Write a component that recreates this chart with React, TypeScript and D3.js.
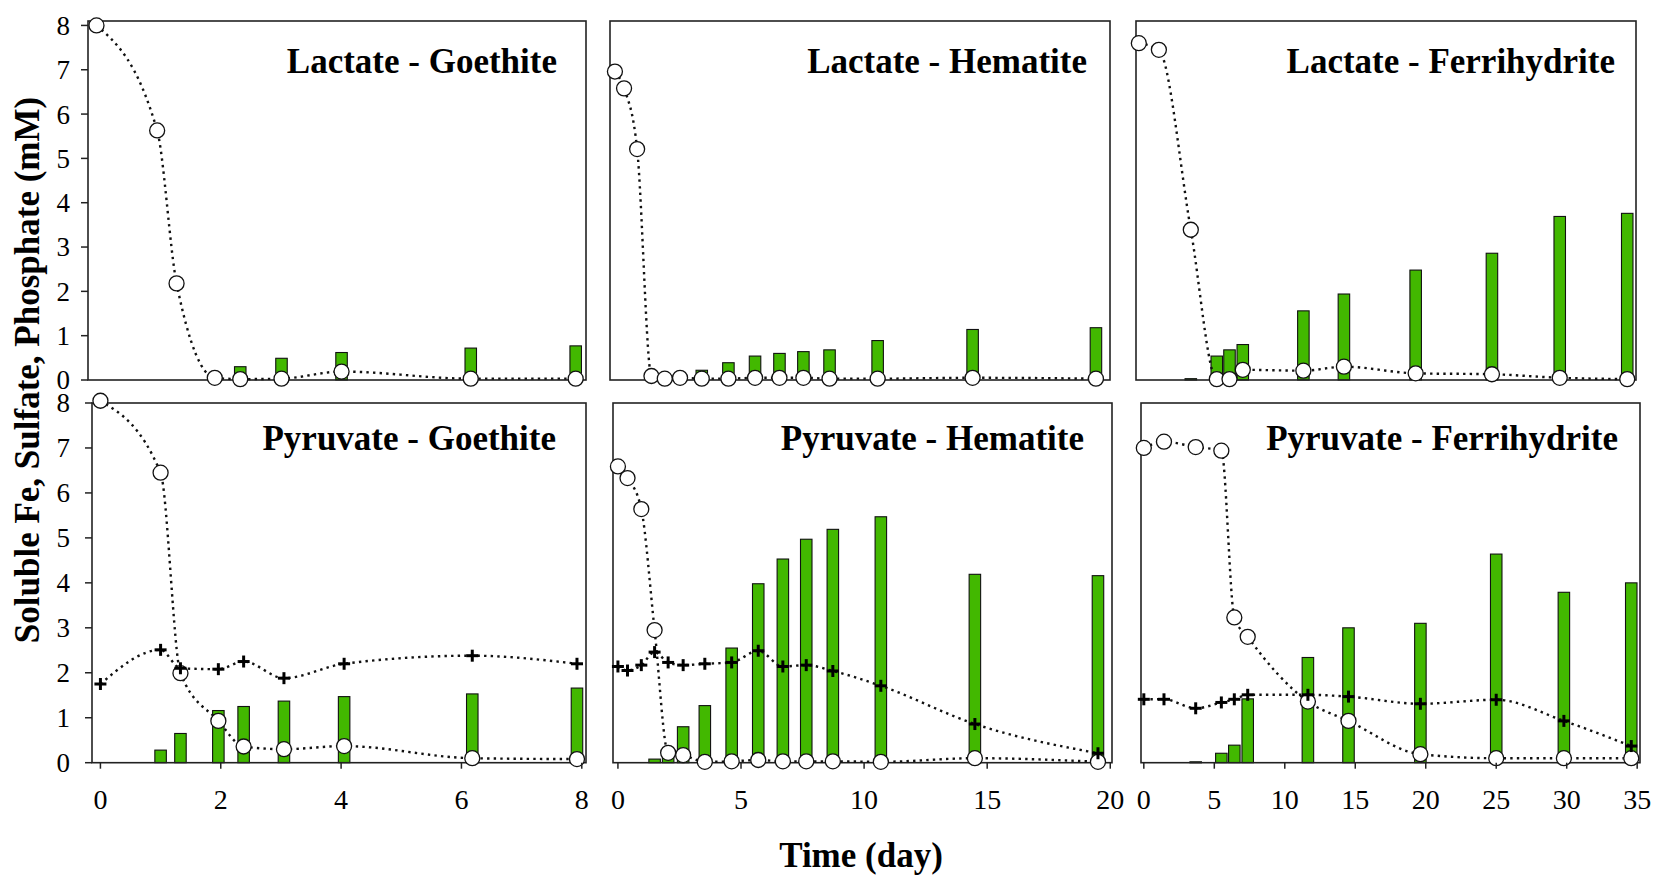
import React, { useEffect } from "react";
import * as d3 from "d3";

// ---------- DATA ----------
// Lactate - Goethite
const lgTime = [0, 1.0, 1.32, 1.95, 2.37, 3.05, 4.04, 6.17, 7.9];
const lgDonor = [8.0, 5.63, 2.18, 0.05, 0.02, 0.03, 0.19, 0.03, 0.03];
const lgFe = [0, 0, 0, 0, 0.3, 0.49, 0.62, 0.72, 0.77];

// Lactate - Hematite
const lhTime = [0, 0.37, 0.9, 1.48, 2.02, 2.64, 3.52, 4.6, 5.68, 6.67, 7.64, 8.7, 10.65, 14.5, 19.5];
const lhDonor = [6.96, 6.58, 5.21, 0.09, 0.03, 0.05, 0.03, 0.03, 0.05, 0.05, 0.05, 0.03, 0.03, 0.05, 0.03];
const lhFe = [0, 0, 0, 0, 0, 0, 0.22, 0.39, 0.54, 0.6, 0.64, 0.68, 0.89, 1.14, 1.18];

// Lactate - Ferrihydrite
const lfTime = [0, 1.42, 3.68, 5.52, 6.42, 7.36, 11.65, 14.52, 19.6, 25.0, 29.8, 34.58];
const lfDonor = [7.6, 7.45, 3.39, 0.02, 0.02, 0.23, 0.21, 0.3, 0.15, 0.13, 0.05, 0.02];
const lfFe = [0, 0, 0.03, 0.54, 0.68, 0.8, 1.56, 1.94, 2.48, 2.86, 3.69, 3.76];

// Pyruvate - Goethite
const pgTime = [0, 1.0, 1.33, 1.96, 2.38, 3.05, 4.05, 6.18, 7.92];
const pgDonor = [8.05, 6.45, 1.99, 0.93, 0.36, 0.3, 0.37, 0.1, 0.08];
const pgSulfate = [1.75, 2.51, 2.1, 2.08, 2.25, 1.88, 2.2, 2.38, 2.2];
const pgFe = [0, 0.28, 0.65, 1.16, 1.25, 1.37, 1.47, 1.53, 1.66];

// Pyruvate - Hematite
const phTime = [0, 0.39, 0.95, 1.49, 2.04, 2.65, 3.53, 4.62, 5.7, 6.7, 7.65, 8.73, 10.68, 14.5, 19.5];
const phDonor = [6.59, 6.33, 5.64, 2.95, 0.22, 0.17, 0.02, 0.03, 0.06, 0.03, 0.03, 0.03, 0.02, 0.1, 0.02];
const phSulfate = [2.14, 2.05, 2.17, 2.46, 2.23, 2.17, 2.2, 2.23, 2.49, 2.14, 2.17, 2.04, 1.71, 0.86, 0.21];
const phFe = [0, 0, 0, 0.08, 0.12, 0.8, 1.27, 2.55, 3.98, 4.53, 4.97, 5.19, 5.47, 4.19, 4.16];

// Pyruvate - Ferrihydrite
const pfTime = [0, 1.43, 3.68, 5.5, 6.42, 7.37, 11.64, 14.52, 19.62, 25.0, 29.8, 34.58];
const pfDonor = [7.0, 7.14, 7.02, 6.94, 3.23, 2.8, 1.36, 0.93, 0.19, 0.1, 0.1, 0.1];
const pfSulfate = [1.41, 1.41, 1.21, 1.34, 1.41, 1.51, 1.51, 1.47, 1.31, 1.4, 0.93, 0.37];
const pfFe = [0, 0, 0.02, 0.21, 0.39, 1.42, 2.34, 3.0, 3.1, 4.64, 3.79, 4.0];

// Ticks
const yTicks = [0, 1, 2, 3, 4, 5, 6, 7, 8];
const goethiteTicks = [0, 2, 4, 6, 8];
const hematiteTicks = [0, 5, 10, 15, 20];
const ferrihydriteTicks = [0, 5, 10, 15, 20, 25, 30, 35];

const titles = [
  "Lactate - Goethite",
  "Lactate - Hematite",
  "Lactate - Ferrihydrite",
  "Pyruvate - Goethite",
  "Pyruvate - Hematite",
  "Pyruvate - Ferrihydrite",
];

// ---------- LAYOUT ----------
const W = 1654;
const H = 876;
const FONT = "'Liberation Serif', 'Times New Roman', Times, serif";
const GREEN = "#42b800";

const rows = [
  { y0: 21, y1: 380, yMax: 8.1, titleY: 73 },
  { y0: 403, y1: 762.7, yMax: 8, titleY: 450 },
];
const colDomains = [
  [-0.14, 8.07],
  [-0.2, 20.07],
  [-0.2, 35.2],
];
const colTicks = [goethiteTicks, hematiteTicks, ferrihydriteTicks];
const frames = [
  [[88, 586], [610, 1110], [1136, 1636]],
  [[92, 586], [613, 1112], [1141, 1640]],
];
const titleRight = [
  [557, 1087, 1615],
  [556, 1084, 1618],
];

const panels = [
  { row: 0, col: 0, t: lgTime, donor: lgDonor, fe: lgFe, sulfate: null },
  { row: 0, col: 1, t: lhTime, donor: lhDonor, fe: lhFe, sulfate: null },
  { row: 0, col: 2, t: lfTime, donor: lfDonor, fe: lfFe, sulfate: null },
  { row: 1, col: 0, t: pgTime, donor: pgDonor, fe: pgFe, sulfate: pgSulfate },
  { row: 1, col: 1, t: phTime, donor: phDonor, fe: phFe, sulfate: phSulfate },
  { row: 1, col: 2, t: pfTime, donor: pfDonor, fe: pfFe, sulfate: pfSulfate },
];

function Panel({ p, i }: { p: any; i: number }) {
  const row = rows[p.row];
  const [fx0, fx1] = frames[p.row][p.col];
  const x = d3.scaleLinear().domain(colDomains[p.col]).range([fx0, fx1]);
  const y = d3.scaleLinear().domain([0, row.yMax]).range([row.y1, row.y0]);
  const pts = p.t.map((t: number, k: number) => [t, p.donor[k]]);
  const line = d3
    .line<number[]>()
    .x((d) => x(d[0]))
    .y((d) => y(d[1]))
    .curve(d3.curveMonotoneX);
  const sulfPts = p.sulfate ? p.t.map((t: number, k: number) => [t, p.sulfate[k]]) : null;
  const barW = 11.5;
  const cs = 6;
  return (
    <g>
      {/* bars */}
      {p.t.map((t: number, k: number) =>
        p.fe[k] > 0 ? (
          <rect
            key={"b" + k}
            x={x(t) - barW / 2}
            y={y(p.fe[k])}
            width={barW}
            height={Math.max(1, y(0) - y(p.fe[k]))}
            fill={GREEN}
            stroke="#111"
            strokeWidth={1.1}
          />
        ) : null
      )}
      {/* frame */}
      <rect
        x={fx0}
        y={row.y0}
        width={fx1 - fx0}
        height={row.y1 - row.y0}
        fill="none"
        stroke="#222"
        strokeWidth={1.6}
      />
      {/* lines */}
      {sulfPts && (
        <path d={line(sulfPts) || ""} fill="none" stroke="#111" strokeWidth={2.4} strokeDasharray="2.4,4.2" />
      )}
      <path d={line(pts) || ""} fill="none" stroke="#111" strokeWidth={2.4} strokeDasharray="2.4,4.2" />
      {/* circles */}
      {pts.map((d: number[], k: number) => (
        <circle key={"c" + k} cx={x(d[0])} cy={y(d[1])} r={7.5} fill="#fff" stroke="#111" strokeWidth={1.3} />
      ))}
      {/* crosses */}
      {sulfPts &&
        sulfPts.map((d: number[], k: number) => (
          <g key={"s" + k} stroke="#000" strokeWidth={3}>
            <line x1={x(d[0]) - cs} x2={x(d[0]) + cs} y1={y(d[1])} y2={y(d[1])} />
            <line x1={x(d[0])} x2={x(d[0])} y1={y(d[1]) - cs} y2={y(d[1]) + cs} />
          </g>
        ))}
      {/* y axis ticks */}
      {p.col === 0 &&
        yTicks.map((v) => (
          <g key={"yt" + v}>
            <line x1={fx0 - 7} x2={fx0} y1={y(v)} y2={y(v)} stroke="#222" strokeWidth={1.5} />
            <text x={70} y={y(v)} dy="0.35em" textAnchor="end" fontFamily={FONT} fontSize={27} fill="#000">
              {v}
            </text>
          </g>
        ))}
      {/* x axis ticks */}
      {p.row === 1 &&
        colTicks[p.col].map((v) => (
          <g key={"xt" + v}>
            <line x1={x(v)} x2={x(v)} y1={row.y1} y2={row.y1 + 6} stroke="#222" strokeWidth={1.5} />
            <text x={x(v)} y={809} textAnchor="middle" fontFamily={FONT} fontSize={28} fill="#000">
              {v}
            </text>
          </g>
        ))}
      {/* title */}
      <text
        x={titleRight[p.row][p.col]}
        y={row.titleY}
        textAnchor="end"
        fontFamily={FONT}
        fontWeight="bold"
        fontSize={35}
        fill="#000"
      >
        {titles[i]}
      </text>
    </g>
  );
}

export default function App() {
  useEffect(() => {
    document.body.style.margin = "0";
  }, []);
  return (
    <svg
      width={W}
      height={H}
      viewBox={`0 0 ${W} ${H}`}
      style={{ position: "absolute", left: 0, top: 0, background: "#fff" }}
    >
      <rect x={0} y={0} width={W} height={H} fill="#fff" />
      {panels.map((p, i) => (
        <Panel key={i} p={p} i={i} />
      ))}
      <text
        transform="translate(38.5,370) rotate(-90)"
        textAnchor="middle"
        fontFamily={FONT}
        fontWeight="bold"
        fontSize={35}
        fill="#000"
      >
        Soluble Fe, Sulfate, Phosphate (mM)
      </text>
      <text x={861} y={867} textAnchor="middle" fontFamily={FONT} fontWeight="bold" fontSize={35} fill="#000">
        Time (day)
      </text>
    </svg>
  );
}
